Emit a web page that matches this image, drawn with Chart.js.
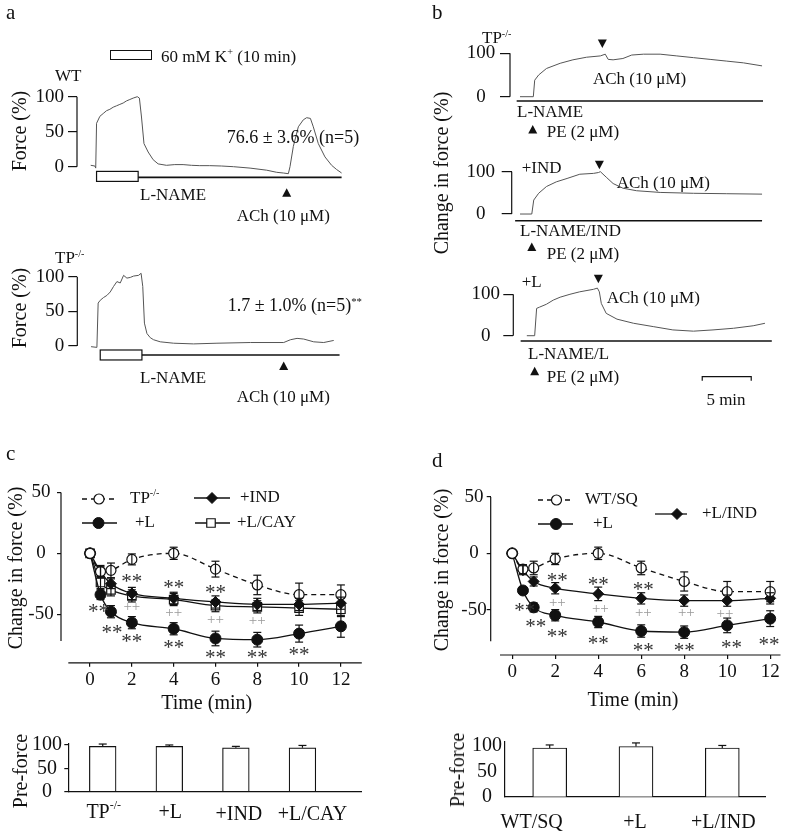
<!DOCTYPE html>
<html>
<head>
<meta charset="utf-8">
<title>Force traces and ACh relaxation</title>
<script src="https://cdn.jsdelivr.net/npm/chart.js@4.4.1/dist/chart.umd.min.js"></script>
<style>
  body { margin: 0; background: #fff; }
  #fig { position: relative; width: 787px; height: 836px; overflow: hidden;
         font-family: "Liberation Serif", "Times New Roman", serif; color: #111; }
  #fig canvas { position: absolute; left: 0; top: 0; }
  .t { position: absolute; white-space: nowrap; line-height: 1; transform: translate(0, -50%); }
  .t.c { transform: translate(-50%, -50%); }
  .t.r { transform: translate(-50%, -50%) rotate(-90deg); }
  sup { font-size: 0.6em; position: relative; top: -0.6em; vertical-align: baseline; line-height: 0; }
  .key { position: absolute; border: 1px solid #111; box-sizing: border-box; background: #fff; }
</style>
</head>
<body>
<div id="fig"></div>
<script>
// Panel a: force traces (time in min from start of 60 mM K+, force in %)
const wtTime = [-1.4, -0.4, -0.2, 0, 0.8, 1.6, 2.4, 3.2, 4.0, 4.8, 5.6, 6.4, 7.2, 8.0, 8.8, 9.8, 10.3, 10.8, 11.4, 12.4,
  13.6, 14.8, 16.8, 18.8, 20.8, 22.8, 24.8, 27.2, 30, 32.9, 36.9, 40.9, 43.3, 44.9, 46.1, 46.5, 47.3, 48.5, 49.7, 50.5,
  51.4, 52.1, 53.3, 54.9, 56.5, 57.7, 58.9];
const wtForce = [2, 1, -2, 62, 72, 76, 80, 82, 85, 87, 89, 91, 94, 96, 98, 100, 98, 71, 33, 21,
  10, 4, 2, 3, 3, 2, 1.5, 1.5, 1, 0, -2, -5, -8, -9, -10, 0, 29, 57, 67, 70,
  69, 57, 33, 14, 2, -4, -9];
const tpTime = [-2.2, -0.8, -0.5, 0, 0.8, 1.6, 2.4, 3.2, 4.0, 4.8, 5.6, 6.4, 7.2, 8.0, 9.2, 9.8, 10.2, 10.6, 11.2, 12.0,
  12.8, 14.4, 17.6, 22.4, 28, 36, 44, 45.6, 47.2, 48.8, 51.2, 53.6, 56];
const tpForce = [-1, -2, 62, 66, 70, 73, 78, 86, 93, 91, 102, 98, 99, 101, 102, 105, 86, 33, 18, 12,
  9, 6, 4, 3, 4, 5, 5, 9, 11, 10, 6, 5, 8];
const kTime = [0, 10];          // 60 mM K+ exposure
const aAchTime = [45.7, 44];    // ACh added: WT, TP-/-
const aTicks = [0, 50, 100];

// Panel b: change in force (%), time in min from start of trace
const b1Time = [0, 1.36, 1.5, 1.9, 2.7, 4.1, 5.4, 6.8, 8.2, 8.7, 9.0, 9.5, 10.5, 11.4, 12.6, 14.3, 16.0, 17.7, 19.4, 21.1, 22.8, 24.7];
const b1Force = [0, 0, 38, 50, 65, 77, 85, 91, 94, 98, 86, 85, 88, 96, 98, 98, 94, 90, 86, 82, 78, 71];
const b2Time = [0, 1.2, 1.4, 1.9, 2.7, 3.7, 4.8, 6.1, 7.5, 8.0, 8.2, 8.8, 9.5, 10.5, 11.9, 14.3, 17.7, 21.1, 24.7];
const b2Force = [0, 0, 33, 49, 65, 76, 84, 94, 96, 98, 100, 87, 72, 61, 55, 51, 49, 48, 47];
const b3Time = [0.7, 1.5, 1.7, 2.0, 2.7, 3.4, 4.1, 5.1, 6.1, 7.5, 7.9, 8.1, 8.3, 8.8, 9.9, 11.6, 13.6, 15.6, 17.7, 19.7, 21.8, 23.8, 25.0];
const b3Force = [0, 0, 66, 69, 76, 86, 93, 100, 106, 112, 115, 106, 78, 54, 40, 30, 22, 14, 11, 14, 18, 24, 30];
const bPeTime = [1.3, 1.2, 1.5];
const bAchTime = [8.4, 8.1, 8.0];
const bTicks = [0, 100];

// Panels c and d: change in force (%) after ACh
const timePts = [0, 0.5, 1, 2, 4, 6, 8, 10, 12];
const timeTicks = [0, 2, 4, 6, 8, 10, 12];
const changeTicks = [50, 0, -50];
const cLabels = ['TP^-/-', '+L', '+IND', '+L/CAY'];
const cTP = [0, -15, -14, -5, 0, -13, -26, -34, -34];
const cTPerr = [0, 5, 6, 4.5, 5, 6.5, 8, 9.5, 8];
const cL = [0, -34, -48, -57, -62, -70, -71, -66, -60];
const cLerr = [0, 4, 5, 5, 5, 6, 6, 7, 9];
const cIND = [0, -15, -25, -33, -37, -40, -42, -42, -41];
const cINDerr = [0, 4, 4, 5, 5, 5, 5, 5, 5];
const cCAY = [0, -24, -30, -35, -38, -43, -44, -45, -46];
const cCAYerr = [0, 5, 5, 5, 5, 5, 5, 6, 6];
const cStars = [[2, -19.5], [4, -24.5], [6, -29], [0.4, -44.7], [1.05, -62], [2, -69.6], [4, -74.5], [6, -82], [8, -82], [10, -80]];
const cPlus = [[2, -44], [4, -49], [6, -55], [8, -55.6]];

const dLabels = ['WT/SQ', '+L', '+L/IND'];
const dWT = [0, -14, -13, -5, 0, -13, -25, -34, -34];
const dWTerr = [0, 4, 6, 5, 5.5, 6, 8.5, 9, 9];
const dL = [0, -33, -48, -55, -61, -69, -70, -64, -58];
const dLerr = [0, 3, 4, 5, 5, 5.5, 5.5, 6.5, 7];
const dLIND = [0, -15, -25, -31, -36, -40, -42, -42, -40];
const dLINDerr = [0, 4, 4, 5, 6, 5, 5, 5, 5];
const dStars = [[2.1, -20.8], [4, -23.7], [6.1, -28.2], [0.58, -46.8], [1.1, -61.6], [2.1, -70.5], [4, -76.4],
  [6.1, -82.9], [8, -82.9], [10.2, -79.9], [11.95, -77]];
const dPlus = [[2.1, -43.9], [4.1, -49.7], [6.1, -52.8], [8.1, -53.3], [9.9, -53.9]];

// Pre-force bars (%)
const preTicks = [0, 50, 100];
const cBarVals = [97, 97, 94, 94];
const cBarErr = [5, 3, 3, 5];
const dBarVals = [96, 99, 96];
const dBarErr = [6, 7, 5];

const W = 787, H = 836;
const INK = '#111';
const FONT = '"Liberation Serif", "Times New Roman", serif';
Chart.defaults.font.family = FONT;
Chart.defaults.color = INK;
Chart.defaults.animation = false;
Chart.defaults.responsive = false;
Chart.defaults.events = [];
Chart.defaults.plugins.legend.display = false;
Chart.defaults.plugins.tooltip.enabled = false;

const fig = document.getElementById('fig');

function pts(xs, ys) {
  return xs.map((x, i) => ({ x: x, y: ys[i] }));
}

function stroke(ctx, x0, y0, x1, y1) {
  ctx.beginPath();
  ctx.moveTo(x0, y0);
  ctx.lineTo(x1, y1);
  ctx.stroke();
}

// triangle with its tip at (x, y); dir 1 points up, -1 points down
function tri(ctx, x, y, dir) {
  ctx.beginPath();
  ctx.moveTo(x, y);
  ctx.lineTo(x - 4.5, y + 8.5 * dir);
  ctx.lineTo(x + 4.5, y + 8.5 * dir);
  ctx.closePath();
  ctx.fill();
}

// text with an optional superscript part after '^'
function drawRich(ctx, str, x, y, size, align) {
  const parts = str.split('^');
  const sup = size * 0.6;
  ctx.font = size + 'px ' + FONT;
  const w0 = ctx.measureText(parts[0]).width;
  ctx.font = sup + 'px ' + FONT;
  const w1 = parts[1] ? ctx.measureText(parts[1]).width : 0;
  const x0 = align === 'center' ? x - (w0 + w1) / 2 : x;
  ctx.textAlign = 'left';
  ctx.textBaseline = 'middle';
  ctx.font = size + 'px ' + FONT;
  ctx.fillText(parts[0], x0, y);
  if (parts[1]) {
    ctx.font = sup + 'px ' + FONT;
    ctx.fillText(parts[1], x0 + w0, y - size * 0.32);
  }
}

// Extra drawing for each chart: axis brackets, protocol bars, markers, error bars, legend
function decor(cfg) {
  return {
    id: 'decor',
    afterDraw(chart) {
      const ctx = chart.ctx, ca = chart.chartArea;
      const px = v => chart.scales.x.getPixelForValue(v);
      const py = v => chart.scales.y.getPixelForValue(v);
      ctx.save();
      ctx.strokeStyle = INK;
      ctx.fillStyle = INK;
      ctx.lineWidth = 1.2;
      if (cfg.bracket) stroke(ctx, ca.left, py(cfg.bracket[0]), ca.left, py(cfg.bracket[1]));
      if (cfg.xLine) stroke(ctx, px(cfg.xLine[0]), ca.bottom, px(cfg.xLine[1]), ca.bottom);
      if (cfg.base) {
        ctx.lineWidth = 1.6;
        stroke(ctx, px(cfg.base[0]), py(cfg.base[2]), px(cfg.base[1]), py(cfg.base[2]));
        ctx.lineWidth = 1.2;
      }
      if (cfg.box) {
        const [t0, t1, lo, hi] = cfg.box;
        const x = px(t0), y = py(hi), w = px(t1) - x, h = py(lo) - y;
        ctx.fillStyle = '#fff';
        ctx.fillRect(x, y, w, h);
        ctx.strokeRect(x, y, w, h);
        ctx.fillStyle = INK;
      }
      (cfg.up || []).forEach(([t, tip]) => tri(ctx, px(t), py(tip), 1));
      (cfg.down || []).forEach(([t, tip]) => tri(ctx, px(t), py(tip), -1));
      if (cfg.scaleBar) {
        const [t0, len, at] = cfg.scaleBar;
        const x0 = px(t0), x1 = px(t0 + len), y = py(at);
        ctx.beginPath();
        ctx.moveTo(x0, y + 4);
        ctx.lineTo(x0, y);
        ctx.lineTo(x1, y);
        ctx.lineTo(x1, y + 4);
        ctx.stroke();
      }
      if (cfg.cap) {
        chart.data.datasets.forEach(ds => {
          if (!ds.errs) return;
          ctx.setLineDash([]);
          ctx.lineWidth = 1.2;
          ctx.strokeStyle = INK;
          ds.data.forEach((p, i) => {
            const e = ds.errs[i];
            if (!e) return;
            const x = px(p.x), top = py(p.y + e), bot = ds.upOnly ? py(p.y) : py(p.y - e);
            stroke(ctx, x, top, x, bot);
            stroke(ctx, x - cfg.cap, top, x + cfg.cap, top);
            if (!ds.upOnly) stroke(ctx, x - cfg.cap, bot, x + cfg.cap, bot);
          });
        });
      }
      (cfg.marks || []).forEach(m => {
        ctx.font = m.size + 'px ' + FONT;
        ctx.fillStyle = m.color;
        ctx.textAlign = 'center';
        ctx.textBaseline = 'alphabetic';
        m.at.forEach(([t, v]) => ctx.fillText(m.text, px(t), py(v) + m.lift * m.size));
      });
      (cfg.legend || []).forEach(it => {
        const ds = chart.data.datasets[it.ds];
        ctx.strokeStyle = INK;
        ctx.lineWidth = ds.borderWidth;
        ctx.setLineDash(ds.borderDash || []);
        stroke(ctx, it.x0, it.y, it.x1, it.y);
        ctx.setLineDash([]);
        ctx.fillStyle = ds.pointBackgroundColor;
        ctx.strokeStyle = ds.pointBorderColor;
        ctx.lineWidth = ds.pointBorderWidth;
        Chart.helpers.drawPoint(ctx, { pointStyle: ds.pointStyle, radius: ds.pointRadius, rotation: 0, borderWidth: ds.pointBorderWidth }, it.mx, it.y);
        ctx.fillStyle = INK;
        drawRich(ctx, ds.label, it.tx, it.y, 17, 'left');
      });
      if (cfg.cats) {
        ctx.fillStyle = INK;
        cfg.cats.labels.forEach((lab, i) => {
          drawRich(ctx, lab, px(i + 1) + cfg.cats.dx[i], ca.bottom + cfg.cats.dy[i], 20, 'center');
        });
      }
      ctx.restore();
    }
  };
}

// area = [left, top, right, bottom] of the plot area in page pixels
function addChart(area, yw, xh, config, plug) {
  const cv = document.createElement('canvas');
  cv.width = W;
  cv.height = H;
  fig.appendChild(cv);
  config.options.layout = {
    padding: { left: area[0] - yw, top: area[1], right: W - area[2], bottom: H - area[3] - xh }
  };
  config.plugins = [plug];
  return new Chart(cv.getContext('2d'), config);
}

function yAxis(range, ticks, yw, o) {
  return {
    min: range[0], max: range[1],
    afterFit: s => { s.width = yw; },
    afterBuildTicks: s => { s.ticks = ticks.map(v => ({ value: v })); },
    border: { display: !!o.border, color: INK, width: 1.2 },
    grid: { display: o.tick > 0, drawOnChartArea: false, drawTicks: o.tick > 0, tickLength: o.tick, color: INK, lineWidth: 1.2 },
    ticks: { font: { size: o.size }, color: INK, padding: o.pad, crossAlign: o.align, autoSkip: false }
  };
}

function traceChart(area, yw, time, force, ticks, xr, yr, yOpt, cfg) {
  return addChart(area, yw, 0, {
    type: 'line',
    data: { datasets: [{ data: pts(time, force), borderColor: '#555', borderWidth: 1, pointRadius: 0, tension: 0, clip: false }] },
    options: {
      scales: {
        x: { type: 'linear', min: xr[0], max: xr[1], display: false },
        y: yAxis(yr, ticks, yw, yOpt)
      }
    }
  }, decor(cfg));
}

const open = { pointBackgroundColor: '#fff', pointBorderColor: INK, pointBorderWidth: 1.2 };
const solid = { pointBackgroundColor: INK, pointBorderColor: INK, pointBorderWidth: 1 };
function series(label, vals, errs, shape, radius, fill, dash) {
  return Object.assign({
    label: label, data: pts(timePts, vals), errs: errs,
    borderColor: INK, borderWidth: 1.3, borderDash: dash || [],
    cubicInterpolationMode: 'monotone', clip: false,
    pointStyle: shape, pointRadius: radius
  }, fill);
}

function timeChart(area, xr, yr, yPad, datasets, cfg) {
  return addChart(area, 40, 40, {
    type: 'line',
    data: { datasets: datasets },
    options: {
      scales: {
        x: {
          type: 'linear', min: xr[0], max: xr[1],
          afterFit: s => { s.height = 40; },
          afterBuildTicks: s => { s.ticks = timeTicks.map(v => ({ value: v })); },
          border: { display: false },
          grid: { drawOnChartArea: false, tickLength: 4, color: INK, lineWidth: 1.2 },
          ticks: { font: { size: 19 }, color: INK, padding: 2, maxRotation: 0, autoSkip: false }
        },
        y: yAxis(yr, changeTicks, 40, { tick: 4, pad: yPad, size: 19, align: 'center' })
      }
    }
  }, decor(cfg));
}

function barChart(area, yw, vals, errs, xr, yr, barW, yOpt, cfg) {
  return addChart(area, yw, 30, {
    type: 'bar',
    data: {
      datasets: [{
        data: vals.map((v, i) => ({ x: i + 1, y: v })), errs: errs, upOnly: true,
        backgroundColor: '#fff', borderColor: INK, borderWidth: 1.2, barThickness: barW
      }]
    },
    options: {
      scales: {
        x: {
          type: 'linear', min: xr[0], max: xr[1], offset: false,
          afterFit: s => { s.height = 30; },
          grid: { display: false, drawTicks: false }, ticks: { display: false },
          border: { display: true, color: INK, width: 1.2 }
        },
        y: yAxis(yr, preTicks, yw, yOpt)
      }
    }
  }, decor(cfg));
}

// ---- panel a
traceChart([77, 93.9, 352, 182.1], 77, wtTime, wtForce, aTicks, [-4.7, 61.4], [-22, 104],
  { tick: 9, pad: 4, size: 19, align: 'near' },
  { bracket: [0, 100], base: [0, 58.9, -15.3], box: [kTime[0], kTime[1], -21, -6.7], up: [[aAchTime[0], -30.9]] });
traceChart([77.3, 271.2, 347.9, 362.6], 77.3, tpTime, tpForce, aTicks, [-5.5, 59.4], [-24, 108],
  { tick: 9, pad: 4, size: 19, align: 'near' },
  { bracket: [0, 100], base: [0, 57.4, -13], box: [kTime[0], kTime[1], -20.2, -5.8], up: [[aAchTime[1], -22.5]] });

// ---- panel b
traceChart([510, 46.8, 765, 103.2], 50, b1Time, b1Force, bTicks, [-1.02, 25.0], [-15, 115],
  { tick: 10, pad: 4.7, size: 19, align: 'center' },
  { bracket: [0, 100], base: [-0.34, 24.8, -10], up: [[bPeTime[0], -65]], down: [[bAchTime[0], 112]] });
traceChart([511.7, 161.1, 765, 222.5], 50, b2Time, b2Force, bTicks, [-0.85, 25.0], [-20, 125],
  { tick: 10, pad: 6.6, size: 19, align: 'center' },
  { bracket: [0, 100], base: [-0.5, 24.7, -15.8], up: [[bPeTime[1], -67]], down: [[bAchTime[1], 106]] });
traceChart([513.3, 279.8, 772, 344.0], 50, b3Time, b3Force, bTicks, [-0.68, 25.72], [-20, 135],
  { tick: 10, pad: 3.2, size: 19, align: 'center' },
  { bracket: [0, 100], base: [0.07, 25.7, -12.8], up: [[bPeTime[2], -75]], down: [[bAchTime[2], 126.6]], scaleBar: [18.6, 5, -99] });

// ---- panel c
timeChart([61, 486.4, 361.8, 662.8], [-1.39, 13.0], [-90, 55], 3.3, [
  series(cLabels[0], cTP, cTPerr, 'circle', 5, open, [5, 4]),
  series(cLabels[1], cL, cLerr, 'circle', 5.5, solid),
  series(cLabels[2], cIND, cINDerr, 'rectRot', 5.5, solid),
  series(cLabels[3], cCAY, cCAYerr, 'rect', 6, open)
], {
  bracket: [-72, 50], xLine: [-1.04, 13.0], cap: 4,
  marks: [
    { at: cStars, text: '**', size: 21, color: '#333', lift: 0.5 },
    { at: cPlus, text: '++', size: 15, color: '#999', lift: 0.27 }
  ],
  legend: [
    { ds: 0, x0: 82, x1: 115, mx: 99, y: 499, tx: 130 },
    { ds: 1, x0: 82, x1: 117, mx: 98.5, y: 523, tx: 135 },
    { ds: 2, x0: 194, x1: 230, mx: 212, y: 498, tx: 240 },
    { ds: 3, x0: 195, x1: 230, mx: 211, y: 523, tx: 237 }
  ]
});
barChart([68.3, 743.1, 361.7, 791.7], 43.3, cBarVals, cBarErr, [0.483, 4.89], [0, 104], 26.7,
  { tick: 4, pad: 2.3, size: 20, align: 'center', border: true },
  { cap: 4, cats: { labels: cLabels, dx: [1, 1, 3, 10], dy: [21, 21, 23, 23] } });

// ---- panel d
timeChart([490.7, 491.4, 783.3, 655], [-1.0, 12.48], [-90.3, 55], 0, [
  series(dLabels[0], dWT, dWTerr, 'circle', 5, open, [5, 4]),
  series(dLabels[1], dL, dLerr, 'circle', 5.5, solid),
  series(dLabels[2], dLIND, dLINDerr, 'rectRot', 5.5, solid)
], {
  bracket: [-78, 50], xLine: [-0.57, 12.48], cap: 4,
  marks: [
    { at: dStars, text: '**', size: 21, color: '#333', lift: 0.5 },
    { at: dPlus, text: '++', size: 15, color: '#999', lift: 0.27 }
  ],
  legend: [
    { ds: 0, x0: 538, x1: 570, mx: 556.5, y: 500, tx: 585 },
    { ds: 1, x0: 538, x1: 573, mx: 556, y: 524, tx: 593 },
    { ds: 2, x0: 655, x1: 687, mx: 677, y: 514, tx: 702 }
  ]
});
barChart([505, 741.4, 765, 796.7], 35, dBarVals, dBarErr, [0.482, 3.495], [0, 109], 34,
  { tick: 0, pad: 3, size: 20, align: 'center', border: true },
  { cap: 4, cats: { labels: dLabels, dx: [-18, -1, 1], dy: [26, 26, 26] } });

// ---- free text
const texts = [
  ['a', 6, 12, 21, ''],
  ['60 mM K<sup>+</sup> (10 min)', 161, 55.5, 17, ''],
  ['WT', 55, 75, 17, ''],
  ['Force (%)', 19, 131, 20, 'r'],
  ['76.6 ± 3.6% (n=5)', 226.7, 137, 18, ''],
  ['L-NAME', 140, 194, 17, ''],
  ['ACh (10 μM)', 236.7, 215, 17, ''],
  ['TP<sup>-/-</sup>', 55, 257, 17, ''],
  ['Force (%)', 19, 308, 20, 'r'],
  ['1.7 ± 1.0% (n=5)<sup>**</sup>', 227.7, 305, 18, ''],
  ['L-NAME', 140, 377, 17, ''],
  ['ACh (10 μM)', 236.7, 396, 17, ''],
  ['b', 432, 12, 21, ''],
  ['TP<sup>-/-</sup>', 482, 37, 17, ''],
  ['ACh (10 μM)', 593, 78, 17, ''],
  ['L-NAME', 517, 111, 17, ''],
  ['PE (2 μM)', 546.7, 131, 17, ''],
  ['+IND', 521.7, 167, 17, ''],
  ['ACh (10 μM)', 616.7, 182, 17, ''],
  ['L-NAME/IND', 520, 230, 17, ''],
  ['PE (2 μM)', 546.7, 253, 17, ''],
  ['+L', 521.7, 281, 17, ''],
  ['ACh (10 μM)', 606.7, 297, 17, ''],
  ['L-NAME/L', 528, 352.5, 17, ''],
  ['PE (2 μM)', 546.7, 376, 17, ''],
  ['5 min', 726, 399, 17, 'c'],
  ['Change in force (%)', 441, 173, 20, 'r'],
  ['c', 6, 453, 21, ''],
  ['Change in force (%)', 15, 568, 20, 'r'],
  ['Time (min)', 206.7, 702, 20, 'c'],
  ['Pre-force', 20, 771, 20, 'r'],
  ['d', 432, 460, 21, ''],
  ['Change in force (%)', 441, 570, 20, 'r'],
  ['Time (min)', 633, 699, 20, 'c'],
  ['Pre-force', 457, 770, 20, 'r']
];
texts.forEach(([html, x, y, size, cls]) => {
  const d = document.createElement('div');
  d.className = 't ' + cls;
  d.style.left = x + 'px';
  d.style.top = y + 'px';
  d.style.fontSize = size + 'px';
  d.innerHTML = html;
  fig.appendChild(d);
});

// key box for the K+ exposure
const key = document.createElement('div');
key.className = 'key';
Object.assign(key.style, { left: '110px', top: '49.5px', width: '42px', height: '10px' });
fig.appendChild(key);
</script>
</body>
</html>
